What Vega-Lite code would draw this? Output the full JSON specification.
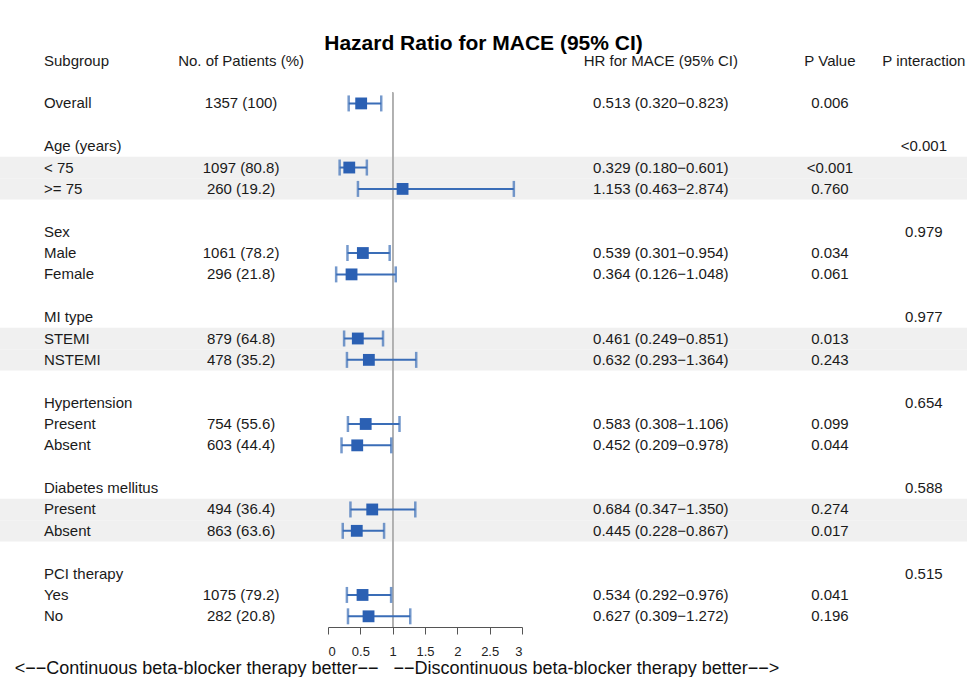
{
  "$schema": "https://vega.github.io/schema/vega-lite/v6.json",
  "padding": {"left": 0, "right": 0, "top": 33, "bottom": 0},
  "bounds": "flush",
  "spacing": 0,
  "config": {"font": "Liberation Sans", "view": {"stroke": null}, "concat": {"spacing": 0}},
  "title": {"text": "Hazard Ratio for MACE (95% CI)", "fontSize": 21, "fontWeight": "bold", "color": "#000000", "anchor": "middle", "baseline": "alphabetic", "offset": -21},
  "datasets": {
    "rows": [
      {"key": "header", "label": "Subgroup", "n": "No. of Patients (%)", "hrtext": "HR for MACE (95% CI)", "p": "P Value", "pint": "P interaction", "shade": false},
      {"key": "Overall", "label": "Overall", "n": "1357 (100)", "hrtext": "0.513 (0.320−0.823)", "p": "0.006", "pint": "", "hr": 0.513, "lo": 0.320, "hi": 0.823, "shade": false},
      {"key": "Age (years)", "label": "Age (years)", "n": "", "hrtext": "", "p": "", "pint": "<0.001", "shade": false},
      {"key": "< 75", "label": "< 75", "n": "1097 (80.8)", "hrtext": "0.329 (0.180−0.601)", "p": "<0.001", "pint": "", "hr": 0.329, "lo": 0.180, "hi": 0.601, "shade": true},
      {"key": ">= 75", "label": ">= 75", "n": "260 (19.2)", "hrtext": "1.153 (0.463−2.874)", "p": "0.760", "pint": "", "hr": 1.153, "lo": 0.463, "hi": 2.874, "shade": true},
      {"key": "Sex", "label": "Sex", "n": "", "hrtext": "", "p": "", "pint": "0.979", "shade": false},
      {"key": "Male", "label": "Male", "n": "1061 (78.2)", "hrtext": "0.539 (0.301−0.954)", "p": "0.034", "pint": "", "hr": 0.539, "lo": 0.301, "hi": 0.954, "shade": false},
      {"key": "Female", "label": "Female", "n": "296 (21.8)", "hrtext": "0.364 (0.126−1.048)", "p": "0.061", "pint": "", "hr": 0.364, "lo": 0.126, "hi": 1.048, "shade": false},
      {"key": "MI type", "label": "MI type", "n": "", "hrtext": "", "p": "", "pint": "0.977", "shade": false},
      {"key": "STEMI", "label": "STEMI", "n": "879 (64.8)", "hrtext": "0.461 (0.249−0.851)", "p": "0.013", "pint": "", "hr": 0.461, "lo": 0.249, "hi": 0.851, "shade": true},
      {"key": "NSTEMI", "label": "NSTEMI", "n": "478 (35.2)", "hrtext": "0.632 (0.293−1.364)", "p": "0.243", "pint": "", "hr": 0.632, "lo": 0.293, "hi": 1.364, "shade": true},
      {"key": "Hypertension", "label": "Hypertension", "n": "", "hrtext": "", "p": "", "pint": "0.654", "shade": false},
      {"key": "HT Present", "label": "Present", "n": "754 (55.6)", "hrtext": "0.583 (0.308−1.106)", "p": "0.099", "pint": "", "hr": 0.583, "lo": 0.308, "hi": 1.106, "shade": false},
      {"key": "HT Absent", "label": "Absent", "n": "603 (44.4)", "hrtext": "0.452 (0.209−0.978)", "p": "0.044", "pint": "", "hr": 0.452, "lo": 0.209, "hi": 0.978, "shade": false},
      {"key": "Diabetes mellitus", "label": "Diabetes mellitus", "n": "", "hrtext": "", "p": "", "pint": "0.588", "shade": false},
      {"key": "DM Present", "label": "Present", "n": "494 (36.4)", "hrtext": "0.684 (0.347−1.350)", "p": "0.274", "pint": "", "hr": 0.684, "lo": 0.347, "hi": 1.350, "shade": true},
      {"key": "DM Absent", "label": "Absent", "n": "863 (63.6)", "hrtext": "0.445 (0.228−0.867)", "p": "0.017", "pint": "", "hr": 0.445, "lo": 0.228, "hi": 0.867, "shade": true},
      {"key": "PCI therapy", "label": "PCI therapy", "n": "", "hrtext": "", "p": "", "pint": "0.515", "shade": false},
      {"key": "Yes", "label": "Yes", "n": "1075 (79.2)", "hrtext": "0.534 (0.292−0.976)", "p": "0.041", "pint": "", "hr": 0.534, "lo": 0.292, "hi": 0.976, "shade": false},
      {"key": "No", "label": "No", "n": "282 (20.8)", "hrtext": "0.627 (0.309−1.272)", "p": "0.196", "pint": "", "hr": 0.627, "lo": 0.309, "hi": 1.272, "shade": false}
    ]
  },
  "hconcat": [
    {
      "width": 328,
      "height": 577,
      "data": {"name": "rows"},
      "encoding": {
        "y": {"field": "key", "type": "nominal", "axis": null,
              "scale": {"domain": ["header","gap1","Overall","gap2","Age (years)","< 75",">= 75","gap3","Sex","Male","Female","gap4","MI type","STEMI","NSTEMI","gap5","Hypertension","HT Present","HT Absent","gap6","Diabetes mellitus","DM Present","DM Absent","gap7","PCI therapy","Yes","No"], "paddingInner": 0, "paddingOuter": 0}}
      },
      "layer": [
        {"transform": [{"filter": "datum.shade"}], "mark": {"type": "rect", "color": "#f0f0f0"},
         "encoding": {"x": {"datum": 0, "type": "quantitative", "scale": {"domain": [0, 100], "nice": false}, "axis": null}, "x2": {"datum": 100}}},
        {"mark": {"type": "text", "align": "left", "fontSize": 15, "color": "#1a1a1a"},
         "encoding": {"x": {"datum": 13.4, "type": "quantitative"}, "text": {"field": "label"}}},
        {"mark": {"type": "text", "align": "center", "fontSize": 15, "color": "#1a1a1a"},
         "encoding": {"x": {"datum": 73.5, "type": "quantitative"}, "text": {"field": "n"}}}
      ]
    },
    {
      "width": 194,
      "height": 577,
      "data": {"name": "rows"},
      "encoding": {
        "y": {"field": "key", "type": "nominal", "axis": null,
              "scale": {"domain": ["header","gap1","Overall","gap2","Age (years)","< 75",">= 75","gap3","Sex","Male","Female","gap4","MI type","STEMI","NSTEMI","gap5","Hypertension","HT Present","HT Absent","gap6","Diabetes mellitus","DM Present","DM Absent","gap7","PCI therapy","Yes","No"], "paddingInner": 0, "paddingOuter": 0}}
      },
      "layer": [
        {"transform": [{"filter": "datum.shade"}], "mark": {"type": "rect", "color": "#f0f0f0"},
         "encoding": {"x": {"datum": 0, "type": "quantitative", "scale": {"domain": [0, 3], "nice": false},
                            "axis": {"values": [0, 0.5, 1, 1.5, 2, 2.5, 3], "tickCount": 7, "labelOverlap": false, "format": "~g", "grid": false,
                                     "domainColor": "#555555", "tickColor": "#555555", "tickSize": 7, "labelFontSize": 13, "labelColor": "#222222", "labelPadding": 11, "labelFont": "Liberation Sans",
                                     "title": "<−−Continuous beta-blocker therapy better−−\u00a0\u00a0\u00a0−−Discontinuous beta-blocker therapy better−−>", "titleFontSize": 18, "titleFontWeight": "normal", "titleColor": "#111111", "titleFont": "Liberation Sans", "titleX": 68.5, "titleY": 32, "titleBaseline": "top"}},
         "x2": {"datum": 3}}},
        {"mark": {"type": "rule", "color": "#b0b0b0", "strokeWidth": 1},
         "encoding": {"x": {"datum": 1, "type": "quantitative"}, "y": {"datum": "Overall", "bandPosition": 0}, "y2": {"value": "height"}}},
        {"transform": [{"filter": "isValid(datum.hr)"}], "mark": {"type": "rule", "color": "#3a6db7", "strokeWidth": 2},
         "encoding": {"x": {"field": "lo", "type": "quantitative"}, "x2": {"field": "hi"}}},
        {"transform": [{"filter": "isValid(datum.hr)"}], "mark": {"type": "tick", "color": "#3a6db7", "thickness": 2.5, "size": 16, "orient": "vertical"},
         "encoding": {"x": {"field": "lo", "type": "quantitative"}}},
        {"transform": [{"filter": "isValid(datum.hr)"}], "mark": {"type": "tick", "color": "#3a6db7", "thickness": 2.5, "size": 16, "orient": "vertical"},
         "encoding": {"x": {"field": "hi", "type": "quantitative"}}},
        {"transform": [{"filter": "isValid(datum.hr)"}], "mark": {"type": "point", "shape": "square", "filled": true, "opacity": 1, "size": 140, "color": "#2b60b3"},
         "encoding": {"x": {"field": "hr", "type": "quantitative"}}}
      ]
    },
    {
      "width": 445,
      "height": 577,
      "data": {"name": "rows"},
      "encoding": {
        "y": {"field": "key", "type": "nominal", "axis": null,
              "scale": {"domain": ["header","gap1","Overall","gap2","Age (years)","< 75",">= 75","gap3","Sex","Male","Female","gap4","MI type","STEMI","NSTEMI","gap5","Hypertension","HT Present","HT Absent","gap6","Diabetes mellitus","DM Present","DM Absent","gap7","PCI therapy","Yes","No"], "paddingInner": 0, "paddingOuter": 0}}
      },
      "layer": [
        {"transform": [{"filter": "datum.shade"}], "mark": {"type": "rect", "color": "#f0f0f0"},
         "encoding": {"x": {"datum": 0, "type": "quantitative", "scale": {"domain": [0, 100], "nice": false}, "axis": null}, "x2": {"datum": 100}}},
        {"mark": {"type": "text", "align": "center", "fontSize": 15, "color": "#1a1a1a"},
         "encoding": {"x": {"datum": 31.2, "type": "quantitative"}, "text": {"field": "hrtext"}}},
        {"mark": {"type": "text", "align": "center", "fontSize": 15, "color": "#1a1a1a"},
         "encoding": {"x": {"datum": 69.2, "type": "quantitative"}, "text": {"field": "p"}}},
        {"mark": {"type": "text", "align": "center", "fontSize": 15, "color": "#1a1a1a"},
         "encoding": {"x": {"datum": 90.3, "type": "quantitative"}, "text": {"field": "pint"}}}
      ]
    }
  ]
}
